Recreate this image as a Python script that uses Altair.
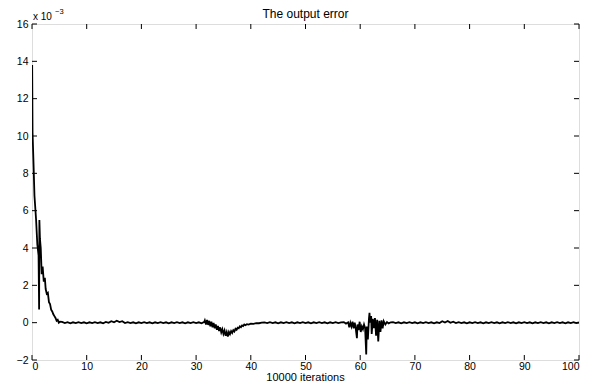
import altair as alt
import pandas as pd
import numpy as np

# ---- data (x in units of 10000 iterations, y in 1e-3) ----
x_start = [0.03, 0.1, 0.3, 0.45, 0.75, 0.97, 1.2, 1.3, 1.35, 1.45, 1.6, 1.77, 1.95, 2.15, 2.35,
           2.5, 2.7, 2.9, 3.1, 3.3, 3.5, 3.7, 3.9, 4.1, 4.3, 4.5, 4.7, 4.9, 5.1]
y_start = [13.8, 10.2, 8.3, 6.8, 5.5, 4.2, 3.6, 0.7, 5.5, 4.5, 4.0, 2.6, 3.0, 2.2, 2.4,
           1.8, 1.55, 1.6, 1.1, 1.0, 0.7, 0.6, 0.45, 0.35, 0.25, 0.1, 0.15, 0.0, 0.05]

y_flat1 = [0.04, -0.02, 0.03, -0.03, 0.02, -0.02, 0.03, -0.02, 0.02, -0.03,
           0.02, -0.02, 0.03, -0.02, 0.02, -0.03, 0.04, -0.01, 0.08, 0.02,
           0.1, 0.03, 0.08, -0.02, 0.03, -0.02, 0.02, -0.03, 0.02, -0.02,
           0.03, -0.02, 0.02, -0.03, 0.02, -0.02, 0.03, -0.02, 0.02, -0.03,
           0.02, -0.02, 0.03, -0.02, 0.02, -0.03, 0.02, -0.02, 0.03, -0.02,
           0.02, -0.03, 0.04]

x_dist1 = [31.6, 31.8, 32.0, 32.2, 32.4, 32.6, 32.8, 33.0, 33.2, 33.4, 33.6, 33.8, 34.0, 34.2,
           34.4, 34.6, 34.8, 35.0, 35.2, 35.4, 35.6, 35.8, 36.0, 36.2, 36.4, 36.6, 36.8, 37.0,
           37.2, 37.4, 37.6, 37.8, 38.0, 38.2, 38.4, 38.6, 38.8, 39.0, 39.3, 39.6, 40.0, 40.5,
           41.0, 41.5, 42.0]
y_dist1 = [0.12, -0.1, 0.15, -0.12, 0.1, -0.2, 0.05, -0.25, -0.02, -0.3, -0.1, -0.38, -0.18, -0.45,
           -0.25, -0.52, -0.35, -0.6, -0.42, -0.7, -0.5, -0.74, -0.5, -0.62, -0.45, -0.55, -0.4, -0.47,
           -0.33, -0.38, -0.27, -0.3, -0.2, -0.24, -0.15, -0.18, -0.1, -0.14, -0.08, -0.1, -0.05, -0.06,
           -0.02, -0.03, 0.0]

y_flat2 = [0.02, -0.02, 0.03, -0.02, 0.02, -0.03, 0.02, -0.02, 0.03, -0.02,
           0.02, -0.03, 0.02, -0.02, 0.03, -0.02, 0.02, -0.03, 0.02, -0.02,
           0.03, -0.02, 0.02, -0.03, 0.02, -0.02, 0.03, -0.02, 0.02]

x_dist2 = [57.0, 57.4, 57.8, 58.0, 58.2, 58.4, 58.6, 58.8, 59.0, 59.2, 59.4, 59.5, 59.7, 59.9,
           60.1, 60.3, 60.5, 60.7, 60.9, 61.1, 61.2, 61.4, 61.6, 61.7, 61.8, 62.0, 62.1, 62.3,
           62.5, 62.7, 62.9, 63.1, 63.3, 63.5, 63.7, 63.9, 64.1, 64.3, 64.6, 64.9, 65.2, 65.6]
y_dist2 = [0.03, -0.05, 0.02, -0.25, 0.0, -0.2, 0.05, -0.3, 0.0, -0.35, -0.83, -0.1, -0.4, 0.05,
           -0.5, -0.2, -0.35, -0.1, -0.3, -1.71, -0.2, -0.9, 0.2, 0.53, 0.0, 0.35, -0.6, 0.2,
           -0.3, 0.25, -0.7, 0.15, -1.0, 0.1, -0.5, 0.12, -0.3, 0.08, -0.1, 0.03, -0.04, 0.02]

y_flat3 = [0.03, -0.02, 0.02, -0.03, 0.02, -0.02, 0.03, -0.02, 0.02, -0.03,
           0.02, -0.02, 0.03, -0.02, 0.02, -0.03, 0.02, -0.02, 0.08, 0.01,
           0.09, -0.01, 0.05, -0.02, 0.03, -0.02, 0.02, -0.03, 0.02, -0.02,
           0.03, -0.02, 0.02, -0.03, 0.02, -0.02, 0.03, -0.02, 0.02, -0.03,
           0.02, -0.02, 0.03, -0.02, 0.02, -0.03, 0.02, -0.02, 0.03, -0.02,
           0.02, -0.03, 0.02, -0.02, 0.03, -0.02, 0.02, -0.03, 0.02, -0.02,
           0.03, -0.02, 0.02, -0.03, 0.02, -0.02, 0.03, -0.02, 0.01]

x_ticks = [0, 10, 20, 30, 40, 50, 60, 70, 80, 90, 100]
y_ticks = [-2, 0, 2, 4, 6, 8, 10, 12, 14, 16]
title_text = "The output error"
x_title = "10000 iterations"

# sampling grid of the flat stretches (iteration index)
x_flat1 = list(np.linspace(5.5, 31.5, len(y_flat1)))
x_flat2 = list(np.linspace(42.5, 56.5, len(y_flat2)))
x_flat3 = list(np.linspace(66.0, 100.0, len(y_flat3)))

xs = x_start + x_flat1 + x_dist1 + x_flat2 + x_dist2 + x_flat3
ys = y_start + y_flat1 + y_dist1 + y_flat2 + y_dist2 + y_flat3
df = pd.DataFrame({"x": xs, "y": ys, "i": list(range(len(xs)))})

W, H = 547, 336
FONT = "Liberation Sans"

xsc = alt.Scale(domain=[0, 100], nice=False, zero=False)
ysc = alt.Scale(domain=[-2, 16], nice=False, zero=False)

x_axis = alt.Axis(values=x_ticks, title=None, ticks=False, domain=False,
                  grid=False, labelPadding=1, labelFontSize=10.5, labelColor="black",
                  labelFont=FONT)
y_axis = alt.Axis(values=y_ticks, title=None, ticks=False, domain=False, grid=False,
                  labelPadding=4, labelFontSize=10.5, labelColor="black", labelFont=FONT)

line = alt.Chart(df).mark_line(color="black", strokeWidth=1.8, clip=True).encode(
    x=alt.X("x:Q", scale=xsc, axis=x_axis),
    y=alt.Y("y:Q", scale=ysc, axis=y_axis),
    order="i:Q",
)

xt = pd.DataFrame({"x": x_ticks})
yt = pd.DataFrame({"y": y_ticks})

tick_bottom = alt.Chart(xt).mark_rule(color="black", strokeWidth=1).encode(
    x=alt.X("x:Q", scale=xsc, axis=x_axis), y=alt.value(H), y2=alt.value(H - 5))
tick_top = alt.Chart(xt).mark_rule(color="black", strokeWidth=1).encode(
    x=alt.X("x:Q", scale=xsc, axis=x_axis), y=alt.value(0), y2=alt.value(5))
tick_left = alt.Chart(yt).mark_rule(color="black", strokeWidth=1).encode(
    y=alt.Y("y:Q", scale=ysc, axis=y_axis), x=alt.value(0), x2=alt.value(5))
tick_right = alt.Chart(yt).mark_rule(color="black", strokeWidth=1).encode(
    y=alt.Y("y:Q", scale=ysc, axis=y_axis), x=alt.value(W), x2=alt.value(W - 5))

exp_base = alt.Chart(pd.DataFrame({"s": ["x 10"]})).mark_text(
    align="left", baseline="alphabetic", fontSize=10, font=FONT, color="black").encode(
    text="s:N", x=alt.value(1), y=alt.value(-4))
exp_pow = alt.Chart(pd.DataFrame({"s": ["\u22123"]})).mark_text(
    align="left", baseline="alphabetic", fontSize=7.5, font=FONT, color="black").encode(
    text="s:N", x=alt.value(23), y=alt.value(-10))
title_mark = alt.Chart(pd.DataFrame({"s": [title_text]})).mark_text(
    align="center", baseline="alphabetic", fontSize=12, font=FONT, color="black").encode(
    text="s:N", x=alt.value(W / 2), y=alt.value(-6))
xtitle_mark = alt.Chart(pd.DataFrame({"s": [x_title]})).mark_text(
    align="center", baseline="alphabetic", fontSize=11, font=FONT, color="black").encode(
    text="s:N", x=alt.value(W / 2), y=alt.value(H + 21))

chart = alt.layer(line, tick_bottom, tick_top, tick_left, tick_right,
                  exp_base, exp_pow, title_mark, xtitle_mark).properties(
    width=W, height=H,
    autosize=alt.AutoSizeParams(type="none"),
    padding={"left": 24, "top": 16, "right": 7, "bottom": 23},
).configure_view(stroke="black", strokeWidth=1.2).configure(background="white")

chart.save("out.html", embed_options={"renderer": "svg", "actions": False})
